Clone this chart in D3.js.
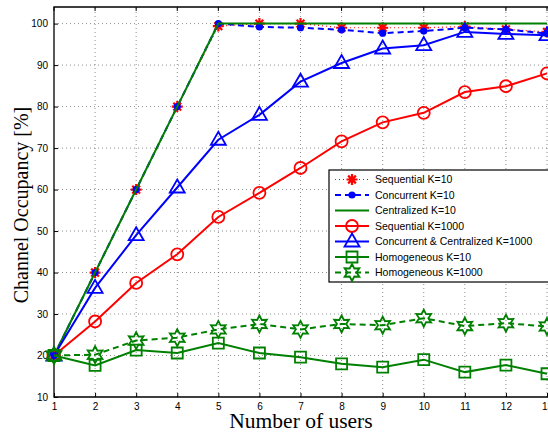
<!DOCTYPE html>
<html>
<head>
<meta charset="utf-8">
<script src="https://cdn.jsdelivr.net/npm/d3@7"></script>
<style>
  body { margin: 0; background: #fff; }
  svg { display: block; }
</style>
</head>
<body>
<div id="chart"></div>
<script>
    var width = 548,
        height = 434;

    // data
    var users = [1, 2, 3, 4, 5, 6, 7, 8, 9, 10, 11, 12, 13];
    var yTicks = [10, 20, 30, 40, 50, 60, 70, 80, 90, 100];

    var seqK10   = [20, 40, 60, 80, 99.4, 100, 100, 99, 99, 99, 99.3, 98.6, 98];
    var concK10  = [20, 40, 60, 80, 100, 99.2, 99, 98.5, 97.7, 98.2, 99, 98.6, 97.6];
    var centK10  = [20, 40, 60, 80, 100, 100, 100, 100, 100, 100, 100, 100, 100];
    var seqK1000 = [20, 28.2, 37.5, 44.4, 53.4, 59.2, 65.2, 71.6, 76.2, 78.5, 83.5, 84.9, 88];
    var ccK1000  = [20, 36.3, 49, 60.5, 72, 78, 86, 90.5, 94, 94.8, 98, 97.5, 97.2];
    var homK10   = [20, 17.6, 21.3, 20.6, 23, 20.6, 19.6, 18, 17.2, 19, 16, 17.7, 15.6];
    var homK1000 = [20, 20.2, 23.6, 24.3, 26.3, 27.6, 26.3, 27.6, 27.3, 29, 27.1, 27.8, 27];

    var series = [
        {name: 'Sequential K=10', values: seqK10, color: '#ff0000', dash: '1,3', marker: 'asterisk'},
        {name: 'Concurrent K=10', values: concK10, color: '#0000ff', dash: '6,4', marker: 'dot'},
        {name: 'Centralized K=10', values: centK10, color: '#008000', dash: null, marker: null},
        {name: 'Sequential K=1000', values: seqK1000, color: '#ff0000', dash: null, marker: 'circle'},
        {name: 'Concurrent & Centralized K=1000', values: ccK1000, color: '#0000ff', dash: null, marker: 'triangle'},
        {name: 'Homogeneous K=10', values: homK10, color: '#008000', dash: null, marker: 'square'},
        {name: 'Homogeneous K=1000', values: homK1000, color: '#008000', dash: '6,4', marker: 'hexagram'}
    ];

    var x = d3.scaleLinear().domain([1, 13]).range([54, 547]);
    var y = d3.scaleLinear().domain([10, 104]).range([397, 7]);

    var svg = d3.select('#chart').append('svg')
        .attr('width', width)
        .attr('height', height);

    // grid
    svg.append('g').selectAll('line').data(users.slice(1)).join('line')
        .attr('x1', d => x(d)).attr('x2', d => x(d))
        .attr('y1', y(10)).attr('y2', y(104))
        .attr('stroke', '#444').attr('stroke-width', 0.6).attr('stroke-dasharray', '1,3');
    svg.append('g').selectAll('line').data(yTicks.slice(1)).join('line')
        .attr('x1', x(1)).attr('x2', width + 5)
        .attr('y1', d => y(d)).attr('y2', d => y(d))
        .attr('stroke', '#444').attr('stroke-width', 0.6).attr('stroke-dasharray', '1,3');

    // axes (matlab style, ticks inward)
    var xAxis = d3.axisBottom(x).tickValues(users).tickSizeInner(-4).tickSizeOuter(0).tickPadding(6);
    var yAxis = d3.axisLeft(y).tickValues(yTicks).tickSizeInner(-4).tickSizeOuter(0).tickPadding(6);

    var gx = svg.append('g').attr('transform', 'translate(0,' + y(10) + ')').call(xAxis);
    var gy = svg.append('g').attr('transform', 'translate(' + x(1) + ',0)').call(yAxis);
    [gx, gy].forEach(function(g) {
        g.select('.domain').remove();
        g.selectAll('text').attr('font-family', 'Liberation Sans, Arial, sans-serif')
            .attr('font-size', 10).attr('fill', '#000');
        g.selectAll('line').attr('stroke', '#000');
    });
    // top ticks
    svg.append('g').selectAll('line').data(users).join('line')
        .attr('x1', d => x(d)).attr('x2', d => x(d))
        .attr('y1', y(104)).attr('y2', y(104) + 4)
        .attr('stroke', '#000');

    // frame
    svg.append('path')
        .attr('d', 'M' + (width + 5) + ',' + y(104) + 'H' + x(1) + 'V' + y(10) + 'H' + (width + 5))
        .attr('fill', 'none').attr('stroke', '#000').attr('stroke-width', 1.3);

    // marker shapes
    function markerPath(type) {
        if (type === 'circle') {
            return d3.arc()({innerRadius: 0, outerRadius: 6, startAngle: 0, endAngle: 2 * Math.PI});
        }
        if (type === 'triangle') return 'M0,-8L7.5,5L-7.5,5Z';
        if (type === 'square') return 'M-5.5,-5.5H5.5V5.5H-5.5Z';
        if (type === 'hexagram') {
            var pts = [];
            for (var i = 0; i < 12; i++) {
                var r = i % 2 === 0 ? 8.5 : 4.6;
                var a = i * Math.PI / 6;
                pts.push([r * Math.sin(a), -r * Math.cos(a)]);
            }
            return 'M' + pts.join('L') + 'Z';
        }
        if (type === 'asterisk') {
            var s = '';
            for (var j = 0; j < 4; j++) {
                var b = j * Math.PI / 4;
                s += 'M' + (-5.5 * Math.sin(b)) + ',' + (5.5 * Math.cos(b)) + 'L' + (5.5 * Math.sin(b)) + ',' + (-5.5 * Math.cos(b));
            }
            return s;
        }
        return null;
    }

    function drawMarker(g, type, color) {
        if (type === 'dot') {
            g.append('circle').attr('r', 3.6).attr('fill', color);
        } else if (type) {
            g.append('path').attr('d', markerPath(type))
                .attr('fill', 'none').attr('stroke', color)
                .attr('stroke-width', type === 'asterisk' ? 2.2 : 1.8)
                .attr('stroke-linejoin', 'miter');
        }
    }

    var line = d3.line().x((d, i) => x(users[i])).y(d => y(d));

    series.forEach(function(s) {
        svg.append('path')
            .attr('d', line(s.values))
            .attr('fill', 'none')
            .attr('stroke', s.color)
            .attr('stroke-width', s.dash === '1,3' ? 1.2 : 2)
            .attr('stroke-dasharray', s.dash);
        if (s.marker) {
            s.values.forEach(function(v, i) {
                var g = svg.append('g').attr('transform', 'translate(' + x(users[i]) + ',' + y(v) + ')');
                drawMarker(g, s.marker, s.color);
            });
        }
    });

    // legend
    var lg = svg.append('g').attr('transform', 'translate(329,170)');
    lg.append('rect')
        .attr('width', 230).attr('height', 112)
        .attr('fill', '#fff').attr('stroke', '#000').attr('stroke-width', 1.2);

    series.forEach(function(s, i) {
        var ly = 9.5 + i * 15.5;
        lg.append('line')
            .attr('x1', 6).attr('x2', 40).attr('y1', ly).attr('y2', ly)
            .attr('stroke', s.color)
            .attr('stroke-width', s.dash === '1,3' ? 1.2 : 2)
            .attr('stroke-dasharray', s.dash);
        var m = lg.append('g').attr('transform', 'translate(23,' + ly + ')');
        drawMarker(m, s.marker, s.color);
        lg.append('text')
            .attr('x', 46).attr('y', ly + 3.8)
            .attr('font-family', 'Liberation Sans, Arial, sans-serif')
            .attr('font-size', 10.5)
            .text(s.name);
    });

    // axis titles
    svg.append('text')
        .attr('x', 301).attr('y', 428)
        .attr('text-anchor', 'middle')
        .attr('font-family', 'Liberation Serif, Times New Roman, serif')
        .attr('font-size', 21.5)
        .text('Number of users');

    svg.append('text')
        .attr('transform', 'translate(28,205) rotate(-90)')
        .attr('text-anchor', 'middle')
        .attr('font-family', 'Liberation Serif, Times New Roman, serif')
        .attr('font-size', 20)
        .text('Channel Occupancy [%]');
</script>
</body>
</html>
